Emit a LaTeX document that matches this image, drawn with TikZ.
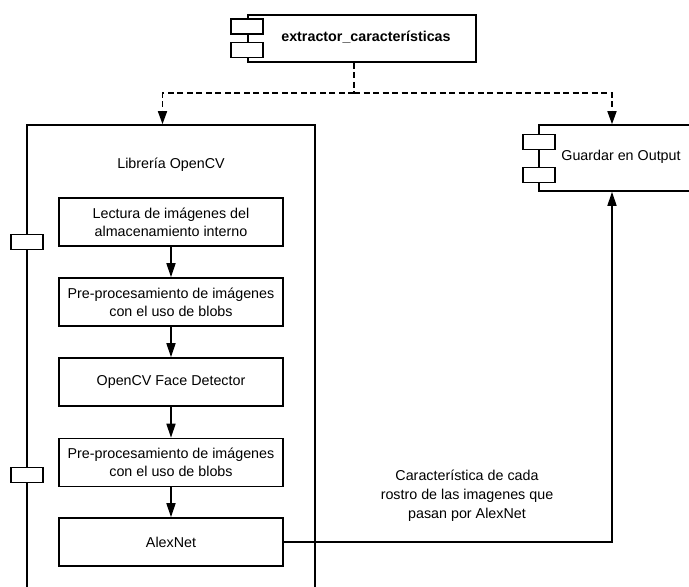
\documentclass[tikz,border=0pt]{standalone}
\usepackage{fontspec}
\setmainfont{Liberation Sans}
\usetikzlibrary{arrows.meta}
\begin{document}
\begin{tikzpicture}[x=1pt,y=-1pt,
  every node/.style={font=\fontsize{14.3}{18}\selectfont},
  box/.style={draw, line width=1.6pt, rectangle, inner sep=0pt},
  tab/.style={draw, line width=1.6pt, fill=white, minimum width=32pt, minimum height=15pt, inner sep=0pt},
  stepbox/.style={box, minimum width=224pt, minimum height=48pt, align=center},
  txt/.style={inner sep=0pt, align=center},
  flow/.style={line width=1.6pt, -{Triangle[width=9pt,length=14pt]}},
  dep/.style={line width=1.6pt, dash pattern=on 6pt off 3.5pt, -{Triangle[width=9pt,length=13pt]}},
  deplain/.style={line width=1.6pt, dash pattern=on 6pt off 3.5pt}]
\path[use as bounding box, clip] (0,0) rectangle (689,587);

% top component
\node[box, minimum width=228pt, minimum height=47pt] (top) at (362,38.5) {};
\node[tab] (t1) at (247,26.5) {};
\node[tab] (t2) at (247,50) {};
\node[txt, font=\fontsize{14.3}{18}\selectfont\bfseries] (toplbl) at (366,37) {extractor\_características};

% OpenCV library container
\node[box, minimum width=288pt, minimum height=515pt] (lib) at (171,382.5) {};
\node[tab] (l1) at (27,242) {};
\node[tab] (l2) at (27,475) {};
\node[txt] (liblbl) at (171,165) {Librería OpenCV};

% output component
\node[box, minimum width=191pt, minimum height=66pt] (out) at (634.5,158) {};
\node[tab] (o1) at (539,142) {};
\node[tab] (o2) at (539,175) {};
\node[txt] (outlbl) at (621,157) {Guardar en Output};

% inner steps
\node[stepbox] (b1) at (171,222) {Lectura de imágenes del\\almacenamiento interno};
\node[stepbox] (b2) at (171,302) {Pre-procesamiento de imágenes\\con el uso de blobs};
\node[stepbox] (b3) at (171,382) {OpenCV Face Detector};
\node[stepbox] (b4) at (171,462.5) {Pre-procesamiento de imágenes\\con el uso de blobs};
\node[stepbox] (b5) at (171,542) {AlexNet};

\draw[flow] (b1) -- (b2);
\draw[flow] (b2) -- (b3);
\draw[flow] (b3) -- (b4);
\draw[flow] (b4) -- (b5);

% dependencies
\coordinate (split) at (354,93);
\draw[deplain] (top.south -| split) -- (split);
\draw[dep] (split) -| ([xshift=-8.5pt]lib.north);
\draw[dep] (split) -| ([xshift=-22.5pt]out.north);

% result
\draw[flow] (b5.east) -| ([xshift=-22.5pt]out.south);
\node[txt, font=\fontsize{14.3}{19}\selectfont] (res) at (467,496) {Característica de cada\\rostro de las imagenes que\\pasan por AlexNet};
\end{tikzpicture}
\end{document}
